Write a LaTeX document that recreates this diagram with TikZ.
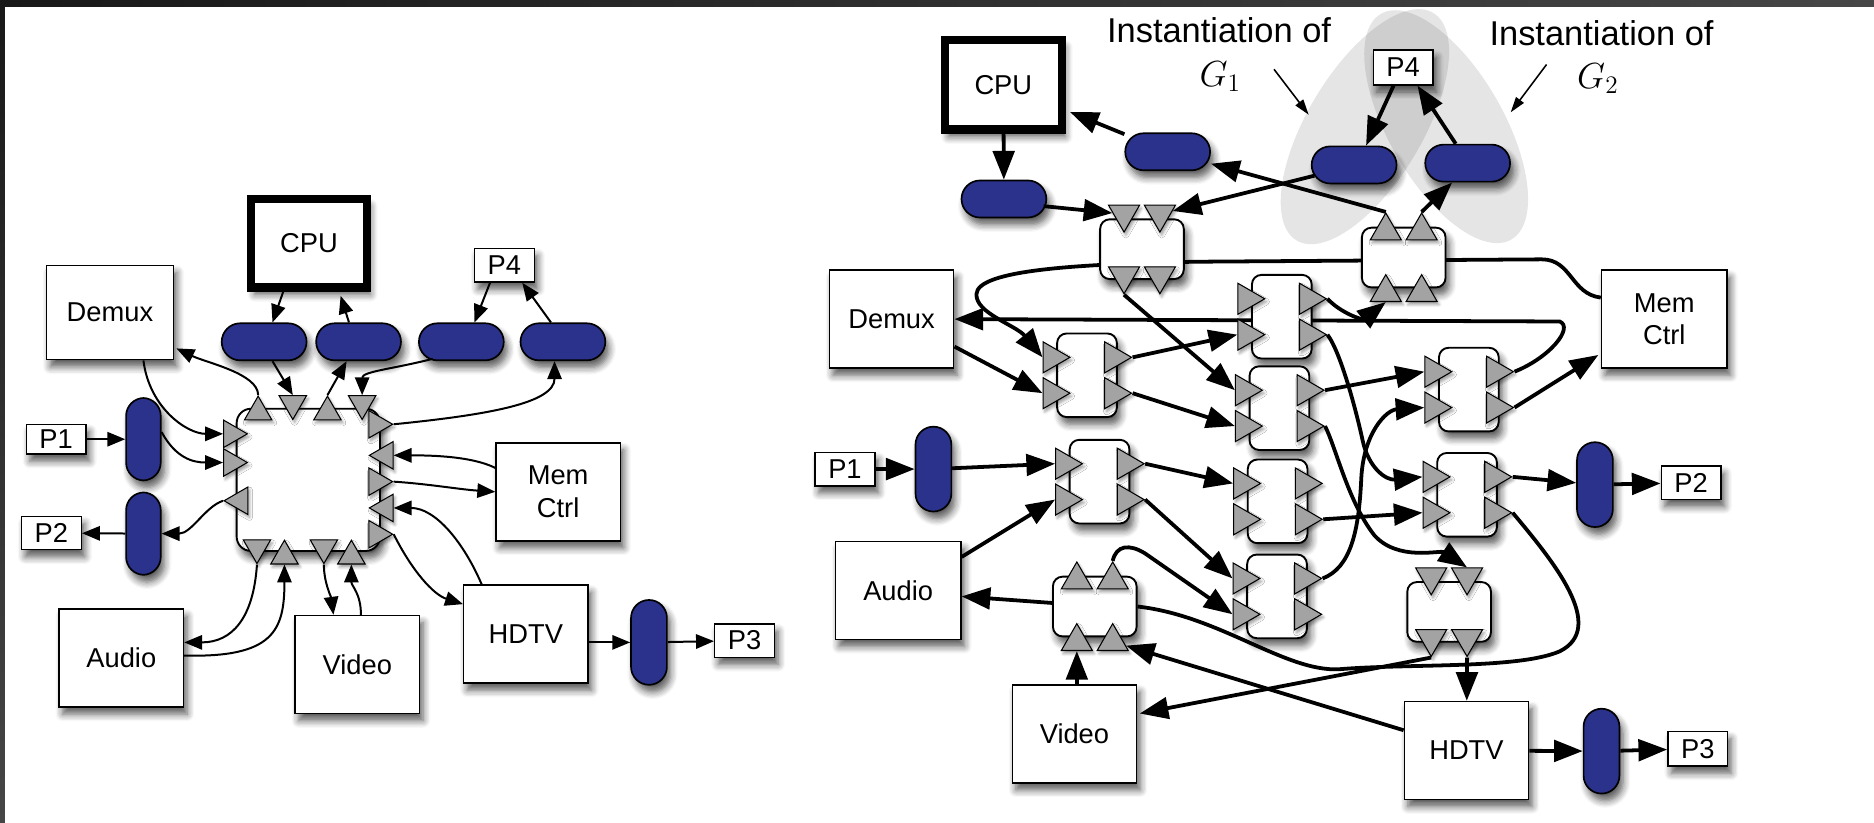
\documentclass[tikz,border=0pt]{standalone}
\usepackage{fontspec}
\setmainfont{Liberation Sans}
\usetikzlibrary{shapes.geometric,arrows.meta,calc,shadows.blur}

\definecolor{pillblue}{RGB}{42,50,140}
\definecolor{trigray}{RGB}{163,163,163}
\definecolor{bandA}{RGB}{24,24,24}
\definecolor{bandB}{RGB}{70,70,70}

\pgfdeclarelayer{bg}
\pgfsetlayers{bg,main}

\tikzset{
  shd/.style={blur shadow={shadow xshift=0.06cm, shadow yshift=-0.12cm, shadow blur radius=0.12cm, shadow blur steps=6, shadow opacity=65}},
  tshd/.style={blur shadow={shadow xshift=0.03cm, shadow yshift=-0.05cm, shadow blur radius=0.05cm, shadow blur steps=4, shadow opacity=40}},
  lbl/.style={font=\fontsize{13}{15.5}\selectfont},
  box/.style={draw, line width=0.7pt, fill=white, align=center, inner sep=0pt, lbl, shd, minimum width=2.08cm, minimum height=1.64cm},
  cpubox/.style={box, line width=0.14cm, minimum width=1.94cm, minimum height=1.48cm},
  port/.style={draw, line width=0.7pt, fill=white, inner sep=0pt, lbl, shd, minimum width=1cm, minimum height=0.56cm},
  hpill/.style={draw, line width=0.8pt, fill=pillblue, rounded corners=0.31cm, minimum width=1.42cm, minimum height=0.62cm, inner sep=0pt, shd},
  vpill/.style={draw, line width=0.8pt, fill=pillblue, rounded corners=0.3cm, minimum width=0.6cm, minimum height=1.42cm, inner sep=0pt, shd},
  hub/.style={draw, line width=0.9pt, fill=white, rounded corners=0.24cm, minimum width=2.4cm, minimum height=2.38cm, inner sep=0pt, shd},
  vrouter/.style={draw, line width=0.9pt, fill=white, rounded corners=0.16cm, minimum width=1cm, minimum height=1.4cm, inner sep=0pt, shd},
  hrouter/.style={draw, line width=0.9pt, fill=white, rounded corners=0.16cm, minimum width=1.4cm, minimum height=1cm, inner sep=0pt, shd},
  tri/.style={regular polygon, regular polygon sides=3, draw, line width=0.5pt, fill=trigray, inner sep=0pt, minimum size=0.6cm, tshd},
  tr/.style={tri, shape border rotate=-90, xshift=-0.07cm},
  tl/.style={tri, shape border rotate=90, xshift=0.07cm},
  tu/.style={tri, shape border rotate=0, yshift=-0.07cm},
  td/.style={tri, shape border rotate=180, yshift=0.07cm},
  sm/.style={minimum size=0.53cm},
  larr/.style={line width=0.95pt, -{Triangle[length=0.3cm,width=0.24cm]}},
  rarr/.style={line width=1.8pt, -{Triangle[length=0.48cm,width=0.36cm]}},
  rline/.style={line width=1.8pt},
  annarr/.style={line width=0.75pt, -{Triangle[length=0.26cm,width=0.16cm]}},
  ann/.style={font=\fontsize{16.4}{18}\selectfont, inner sep=0pt},
  gsym/.style={font=\fontsize{18}{20}\selectfont, inner sep=0pt},
  hull/.style={fill=black, fill opacity=0.1},
}

\begin{document}
\begin{tikzpicture}[x=0.02cm, y=-0.02cm]
\useasboundingbox (0,0) rectangle (1568,688);

% shaded hulls of the two instantiations
\fill[hull, rotate around={-31:(1142,106)}] (1142,106) ellipse [x radius=48, y radius=111];
\fill[hull, rotate around={30:(1210,106)}] (1210,106) ellipse [x radius=48, y radius=109];

% ---------------- left: single crossbar ----------------
\node[cpubox] (cpuL) at (258.5,203.5) {CPU};
\node[box, minimum width=2.12cm, minimum height=1.58cm] (demuxL) at (92,261.5) {Demux};
\node[port] (p4L) at (422,222) {P4};
\node[hpill] (pill1L) at (221,286) {};
\node[hpill] (pill2L) at (300,286) {};
\node[hpill] (pill3L) at (386,286) {};
\node[hpill] (pill4L) at (471,286) {};
\node[hub] (hub) at (258,401.5) {};
\node[port, minimum height=0.5cm] (p1L) at (47,367.5) {P1};
\node[vpill, minimum width=0.58cm, minimum height=1.38cm] (p1pL) at (120,367.5) {};
\node[vpill, minimum width=0.58cm, minimum height=1.38cm] (p2pL) at (120,446.5) {};
\node[port] (p2L) at (43,446) {P2};
\node[box] (memL) at (467,411.5) {Mem\\Ctrl};
\node[box] (hdtvL) at (440,530.5) {HDTV};
\node[vpill] (p3pL) at (543,537.5) {};
\node[port] (p3L) at (623,536) {P3};
\node[box] (audioL) at (101.5,550.5) {Audio};
\node[box] (videoL) at (299,556) {Video};

% hub ports
\node[tu, sm] (hT1) at ($(hub.north)+(-42,0)$) {};
\node[td, sm] (hT2) at ($(hub.north)+(-13,0)$) {};
\node[tu, sm] (hT3) at ($(hub.north)+(16,0)$) {};
\node[td, sm] (hT4) at ($(hub.north)+(45,0)$) {};
\node[tr, sm] (hR1) at ($(hub.east)+(0,-46.5)$) {};
\node[tl, sm] (hR2) at ($(hub.east)+(0,-20.5)$) {};
\node[tr, sm] (hR3) at ($(hub.east)+(0,1.5)$) {};
\node[tl, sm] (hR4) at ($(hub.east)+(0,23.5)$) {};
\node[tr, sm] (hR5) at ($(hub.east)+(0,45.5)$) {};
\node[tr, sm] (hL1) at ($(hub.west)+(0,-38.5)$) {};
\node[tr, sm] (hL2) at ($(hub.west)+(0,-14.5)$) {};
\node[tl, sm] (hL3) at ($(hub.west)+(0,17.5)$) {};
\node[td, sm] (hB1) at ($(hub.south)+(-43,0)$) {};
\node[tu, sm] (hB2) at ($(hub.south)+(-20,0)$) {};
\node[td, sm] (hB3) at ($(hub.south)+(13,0)$) {};
\node[tu, sm] (hB4) at ($(hub.south)+(36,0)$) {};

% left connectors
\draw[larr] ($(cpuL.south)+(-21.5,0)$) -- ($(pill1L.north)+(7,0)$);
\draw[larr] ($(pill2L.north)+(-8,0)$) -- ($(cpuL.south)+(26.5,3.5)$);
\draw[larr] ($(p4L.south)+(-12,0)$) -- ($(pill3L.north)+(11,0)$);
\draw[larr] ($(pill4L.north)+(-10,0)$) -- ($(p4L.south)+(15,0)$);
\draw[larr] ($(pill1L.south)+(7,0)$) -- (hT2.side 2);
\draw[larr] (hT3.corner 1) -- ($(pill2L.south)+(-10,0)$);
\draw[larr] ($(pill3L.south)+(-24,-2)$) .. controls +(-30,8) and +(0,-20) .. (hT4.side 2);
\draw[larr] (hT1.corner 1) .. controls +(0,-18) and +(25,12) .. ($(demuxL.east)+(2,30)$);
\draw[larr] ($(demuxL.south)+(28,0)$) .. controls +(5,40) and +(-30,0) .. (hL1.side 2);
\draw[larr] ($(p1pL.east)+(0,-6)$) .. controls +(12,22) and +(-25,0) .. (hL2.side 2);
\draw[larr] (hL3.corner 1) .. controls +(-15,5) and +(25,0) .. (p2pL.east);
\draw[larr] (p1L) -- (p1pL);
\draw[larr] (p2pL) -- (p2L);
\draw[larr] (hR1.corner 1) .. controls +(80,-8) and +(0,35) .. ($(pill4L.south)+(-7,0)$);
\draw[larr] ($(memL.west)+(0,-20)$) .. controls +(-20,-10) and +(30,0) .. (hR2.side 2);
\draw[larr] (hR3.corner 1) .. controls +(30,2) and +(-30,-2) .. (memL.west);
\draw[larr] ($(hdtvL.north)+(-37,0)$) .. controls +(-15,-35) and +(35,0) .. (hR4.side 2);
\draw[larr] (hR5.corner 1) .. controls +(15,30) and +(-25,-8) .. ($(hdtvL.west)+(0,-25)$);
\draw[larr] (hB1.corner 1) .. controls +(-3,45) and +(40,0) .. ($(audioL.east)+(0,-13)$);
\draw[larr] ($(audioL.east)+(0,-2)$) .. controls +(75,2) and +(0,55) .. (hB2.side 2);
\draw[larr] (hB3.corner 1) .. controls +(0,15) and +(-2,-15) .. ($(videoL.north)+(-20,0)$);
\draw[larr] ($(videoL.north)+(3,0)$) .. controls +(0,-18) and +(0,18) .. (hB4.side 2);
\draw[larr] ($(hdtvL.east)+(0,7)$) -- (p3pL.west);
\draw[larr] (p3pL) -- (p3L);

% ---------------- right: network of routers ----------------
\node[cpubox, minimum width=1.96cm, minimum height=1.5cm] (cpuR) at (839.5,71) {CPU};
\node[hpill] (pillA) at (840,166.5) {};
\node[hpill] (pillB) at (977,127) {};
\node[hpill] (pillC) at (1133,138) {};
\node[hpill] (pillD) at (1228,136.5) {};
\node[port, minimum height=0.58cm] (p4R) at (1174,56.5) {P4};
\node[box] (demuxR) at (746,267) {Demux};
\node[box, minimum width=2.1cm] (memR) at (1392.5,267) {Mem\\Ctrl};
\node[port] (p1R) at (707,392.5) {P1};
\node[vpill] (p1pR) at (781,392.5) {};
\node[box, minimum width=2.1cm] (audioR) at (751.5,494) {Audio};
\node[box] (videoR) at (899,614) {Video};
\node[box] (hdtvR) at (1227,628) {HDTV};
\node[vpill] (p3pR) at (1340,628.5) {};
\node[port, minimum height=0.58cm] (p3R) at (1420.5,626.5) {P3};
\node[vpill] (p2pR) at (1334.5,405.5) {};
\node[port] (p2R) at (1415,404) {P2};

\node[ann] (inst1) at (1020,25) {Instantiation of};
\node[gsym] (g1) at (1021,64) {$G_1$};
\node[ann] (inst2) at (1340,28) {Instantiation of};
\node[gsym] (g2) at (1337,66) {$G_2$};

% routers
\node[hrouter] (rT1) at (955.5,208.5) {};
\node[hrouter] (rT2) at (1174.5,215.5) {};
\node[hrouter] (r1c) at (916,507.5) {};
\node[hrouter] (r3c) at (1212.5,512) {};
\node[vrouter] (r1a) at (909.5,314) {};
\node[vrouter] (r1b) at (920,403) {};
\node[vrouter] (r2a) at (1072.5,265) {};
\node[vrouter] (r2b) at (1070.5,341.5) {};
\node[vrouter] (r2c) at (1069,419.5) {};
\node[vrouter] (r2d) at (1068.5,499) {};
\node[vrouter] (r3a) at (1229,326) {};
\node[vrouter] (r3b) at (1227.5,414) {};

% router ports
\foreach \r in {1a,1b,2a,2b,2c,2d,3a,3b} {
  \node[tr] (i\r1) at ($(r\r.west)+(0,-15)$) {};
  \node[tr] (i\r2) at ($(r\r.west)+(0,15)$) {};
  \node[tr] (o\r1) at ($(r\r.east)+(0,-15)$) {};
  \node[tr] (o\r2) at ($(r\r.east)+(0,15)$) {};
}
\node[td] (tT1a) at ($(rT1.north)+(-15,0)$) {};
\node[td] (tT1b) at ($(rT1.north)+(15,0)$) {};
\node[td] (tT1c) at ($(rT1.south)+(-15,0)$) {};
\node[td] (tT1d) at ($(rT1.south)+(15,0)$) {};
\node[tu] (tT2a) at ($(rT2.north)+(-15,0)$) {};
\node[tu] (tT2b) at ($(rT2.north)+(15,0)$) {};
\node[tu] (tT2c) at ($(rT2.south)+(-15,0)$) {};
\node[tu] (tT2d) at ($(rT2.south)+(15,0)$) {};
\node[tu] (t1c1) at ($(r1c.north)+(-15,0)$) {};
\node[tu] (t1c2) at ($(r1c.north)+(15,0)$) {};
\node[tu] (b1c1) at ($(r1c.south)+(-15,0)$) {};
\node[tu] (b1c2) at ($(r1c.south)+(15,0)$) {};
\node[td] (t3c1) at ($(r3c.north)+(-15,0)$) {};
\node[td] (t3c2) at ($(r3c.north)+(15,0)$) {};
\node[td] (b3c1) at ($(r3c.south)+(-15,0)$) {};
\node[td] (b3c2) at ($(r3c.south)+(15,0)$) {};

% links that run behind the routers
\begin{pgfonlayer}{bg}
\draw[rarr] ($(memR.west)+(0,-18)$) .. controls +(-25,-3) and +(25,0) .. (1290,217) -- (1000,219)
  .. controls (900,221) and (818,226) .. (817,246) .. controls (816,262) and (850,272) .. (i1a1.side 2);
\draw[rarr] (o3a1.corner 1) .. controls +(30,-12) and +(12,5) .. (1305,269) -- (demuxR.east);
\draw[rline] (o3b2.corner 1) .. controls (1300,470) and (1345,525) .. (1305,545)
  .. controls (1270,560) and (1180,555) .. (1120,560) .. controls (1075,562) and (1020,515) .. (r1c.east);
\end{pgfonlayer}

% right connectors
\draw[rarr] (cpuR) -- (pillA);
\draw[rarr] ($(pillA.east)+(-3,6)$) -- (tT1a);
\draw[rarr] ($(pillC.west)+(3,9)$) -- (tT1b);
\draw[rarr] (tT2a.corner 1) -- (pillB);
\draw[rarr, shorten >=0.07cm] (pillB) -- (cpuR);
\draw[rarr] (tT2b.corner 1) -- ($(pillD.south)+(-13,0)$);
\draw[rarr] ($(p4R.south)+(-8,0)$) -- ($(pillC.north)+(10,0)$);
\draw[rarr] ($(pillD.north)+(-10,0)$) -- ($(p4R.south)+(12,0)$);

\coordinate (g1a) at (1066,58);
\coordinate (g1b) at (1095,96);
\draw[annarr] (g1a) -- (g1b);
\coordinate (g2a) at (1294,54);
\coordinate (g2b) at (1264,94);
\draw[annarr] (g2a) -- (g2b);

\draw[rarr] (o2a1.corner 1) .. controls (1122,262) and (1140,268) .. (tT2c.side 2);
\draw[rarr] (o2a2.corner 1) .. controls (1122,295) and (1135,345) .. (1140,368) .. controls (1145,392) and (1160,402) .. (i3b1.side 2);
\draw[rarr] (o2b1.corner 1) -- (i3a1.side 2);
\draw[rarr] (o2b2.corner 1) .. controls (1118,375) and (1128,420) .. (1150,448) .. controls (1170,470) and (1205,460) .. (t3c2.side 2);
\draw[rarr] (o2c2.corner 1) -- (i3b2.side 2);
\draw[rarr] (o2d1.corner 1) .. controls (1130,475) and (1137,445) .. (1139,400) .. controls (1141,362) and (1160,343) .. (i3a2.side 2);
\draw[rarr] (o3a2.corner 1) -- ($(memR.west)+(-2,30)$);
\draw[rarr] (o3b1.corner 1) -- (p2pR);
\draw[rarr] (p2pR) -- (p2R);
\draw[rarr] (b3c2.corner 1) -- (hdtvR);
\draw[rarr] (b3c1.corner 1) -- ($(videoR.east)+(2,-17)$);
\draw[rarr] ($(hdtvR.west)+(0,-17)$) -- (b1c2);
\draw[rarr] ($(videoR.north)+(2,0)$) -- (b1c1.side 2);
\draw[rarr] ($(r1c.west)+(0,-3)$) -- ($(audioR.east)+(0,5)$);
\draw[rarr] (t1c2.corner 1) .. controls (934,456) and (945,455) .. (958,463) -- (i2d2.side 2);
\draw[rarr] ($(audioR.east)+(0,-28)$) -- (i1b2.side 2);
\draw[rarr] (p1R) -- (p1pR);
\draw[rarr] (p1pR) -- (i1b1.side 2);
\draw[rarr] (o1b1.corner 1) -- (i2c1.side 2);
\draw[rarr] (o1b2.corner 1) -- (i2d1.side 2);
\draw[rarr] ($(demuxR.east)+(0,23)$) -- (i1a2.side 2);
\draw[rarr] (o1a1.corner 1) -- (i2a2.side 2);
\draw[rarr] (o1a2.corner 1) -- (i2b2.side 2);
\draw[rarr] (tT1c.corner 1) -- (i2b1.side 2);
\draw[rarr] (hdtvR) -- (p3pR);
\draw[rarr] (p3pR) -- (p3R);

% frame edges
\shade[left color=bandA, right color=bandB] (0,0) rectangle (1568,5.7);
\shade[top color=bandA, bottom color=bandB] (0,0) rectangle (4,688);
\end{tikzpicture}
\end{document}
